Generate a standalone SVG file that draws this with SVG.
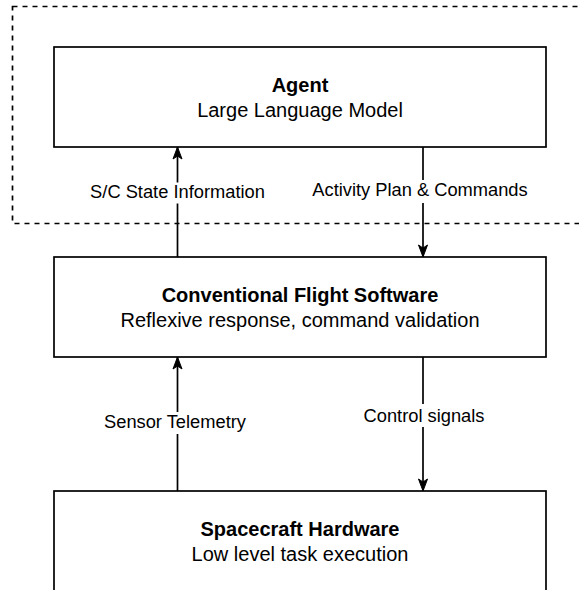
<svg xmlns="http://www.w3.org/2000/svg" width="579" height="590" viewBox="0 0 579 590">
<style>
.box{fill:#fff;stroke:#000;stroke-width:1.7}
.t{font-family:"Liberation Sans",Arial,sans-serif;font-size:20px;fill:#000;text-anchor:middle}
.b{font-weight:bold}
.lbl{font-family:"Liberation Sans",Arial,sans-serif;font-size:18.3px;fill:#000;text-anchor:middle}
.edge{fill:none;stroke:#000;stroke-width:1.7}
.lbg{fill:#fff}
</style>
<defs>
<marker id="arr" markerUnits="userSpaceOnUse" markerWidth="14" markerHeight="12" refX="13" refY="6" orient="auto" viewBox="0 0 14 12">
<path d="M1,1.5 L13,6 L1,10.5 L4,6 Z" fill="#000" stroke="#000" stroke-width="1"/>
</marker>
</defs>
<rect id="boundary" x="12.5" y="6.5" width="600" height="217" fill="none" stroke="#000" stroke-width="1.7" stroke-dasharray="5 5"/>
<g id="agent">
<rect class="box" x="54" y="47" width="492" height="100"/>
<text class="t b" x="300" y="91.5">Agent</text>
<text class="t" x="300" y="116.5">Large Language Model</text>
</g>
<g id="fsw">
<rect class="box" x="54" y="257" width="492" height="100"/>
<text class="t b" x="300" y="301.5">Conventional Flight Software</text>
<text class="t" x="300" y="326.5">Reflexive response, command validation</text>
</g>
<g id="hardware">
<rect class="box" x="54" y="491" width="492" height="100"/>
<text class="t b" x="300" y="535.5">Spacecraft Hardware</text>
<text class="t" x="300" y="560.5">Low level task execution</text>
</g>
<g id="connectors">
<path class="edge" d="M177.5,257 L177.5,147" marker-end="url(#arr)"/>
<rect class="lbg" x="89" y="182.5" width="177" height="21"/>
<text class="lbl" x="177.5" y="197.5">S/C State Information</text>
<path class="edge" d="M423,147 L423,257" marker-end="url(#arr)"/>
<rect class="lbg" x="311" y="180" width="218" height="23"/>
<text class="lbl" x="420" y="195.5">Activity Plan &amp; Commands</text>
<path class="edge" d="M177.5,491 L177.5,357" marker-end="url(#arr)"/>
<rect class="lbg" x="103" y="412" width="146" height="22"/>
<text class="lbl" x="175" y="428">Sensor Telemetry</text>
<path class="edge" d="M423,357 L423,491" marker-end="url(#arr)"/>
<rect class="lbg" x="362" y="404" width="124" height="23"/>
<text class="lbl" x="424" y="421.5">Control signals</text>
</g>
</svg>
